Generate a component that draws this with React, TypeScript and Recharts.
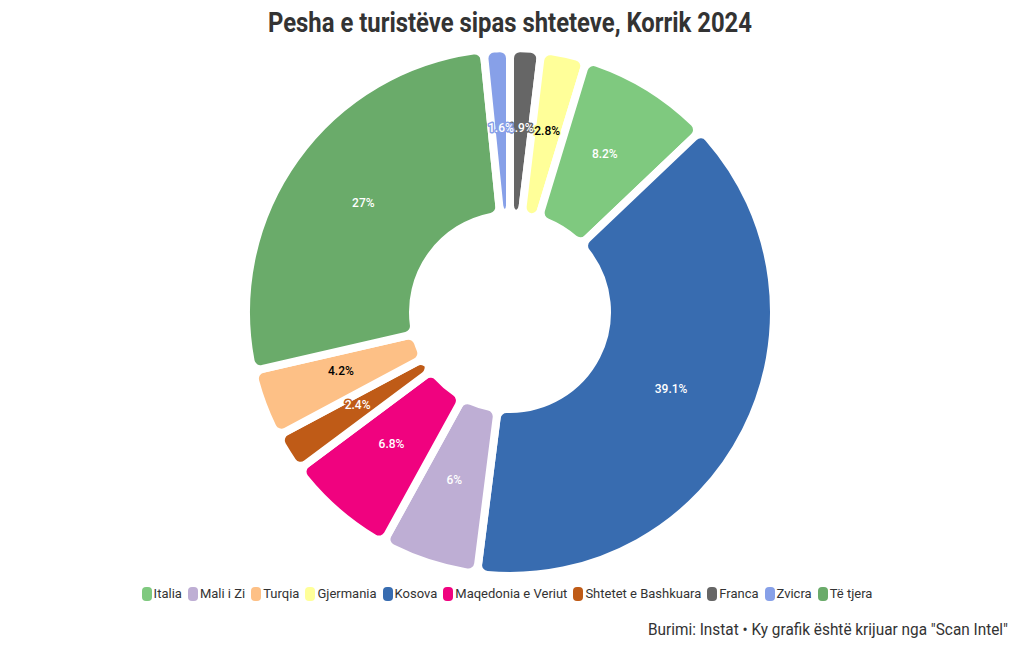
import React from "react";
import { PieChart, Pie, Cell, Legend } from "recharts";

const countries = ["Franca", "Gjermania", "Italia", "Kosova", "Mali i Zi", "Maqedonia e Veriut", "Shtetet e Bashkuara", "Turqia", "Të tjera", "Zvicra"];
const shares = [1.9, 2.8, 8.2, 39.1, 6, 6.8, 2.4, 4.2, 27, 1.6];
const legendOrder = ["Italia", "Mali i Zi", "Turqia", "Gjermania", "Kosova", "Maqedonia e Veriut", "Shtetet e Bashkuara", "Franca", "Zvicra", "Të tjera"];
const palette = ["#7fc97f", "#beaed4", "#fdc086", "#ffff99", "#386cb0", "#f0027f", "#bf5b17", "#666666", "#87a0e8", "#6aab6a"];
const darkLabel = ["Gjermania", "Turqia"];

const title = "Pesha e turistëve sipas shteteve, Korrik 2024";
const caption = 'Burimi: Instat • Ky grafik është krijuar nga "Scan Intel"';

const colorOf = (name: string) => palette[legendOrder.indexOf(name)];
const data = countries.map((c, i) => ({ name: c, value: shares[i] }));

const FONT = "Roboto, 'DejaVu Sans', sans-serif";
const RAD = Math.PI / 180;

const renderLabel = (props: any) => {
  const { cx, cy, midAngle, innerRadius, outerRadius, index } = props;
  const r = (innerRadius + outerRadius) / 2;
  const x = cx + r * Math.cos(-midAngle * RAD);
  const y = cy + r * Math.sin(-midAngle * RAD) - 4;
  const name = countries[index];
  const col = colorOf(name);
  const fill = darkLabel.includes(name) ? "#000" : "#fff";
  return (
    <text
      x={x}
      y={y}
      textAnchor="middle"
      dominantBaseline="central"
      fontFamily={FONT}
      fontWeight={500}
      fontSize={12}
      fill={fill}
      stroke={col}
      strokeWidth={3}
      paintOrder="stroke"
      strokeLinejoin="round"
    >
      {shares[index] + "%"}
    </text>
  );
};

const LegendContent = () => (
  <div style={{ display: "flex", justifyContent: "center", fontFamily: FONT, fontSize: 13, color: "#333" }}>
    {legendOrder.map((n) => (
      <div key={n} style={{ display: "flex", alignItems: "center", marginRight: 6 }}>
        <span style={{ width: 10, height: 14, borderRadius: 4, background: colorOf(n), display: "inline-block", marginRight: 2 }} />
        <span>{n}</span>
      </div>
    ))}
  </div>
);

export default function App() {
  return (
    <div style={{ position: "absolute", left: 0, top: 0, width: 1020, height: 650, background: "#fff" }}>
      <PieChart width={1020} height={650} margin={{ top: 0, right: 0, bottom: 0, left: 0 }}>
        <Pie
          data={data}
          dataKey="value"
          nameKey="name"
          cx={510}
          cy={312}
          innerRadius={97}
          outerRadius={264}
          startAngle={90}
          endAngle={-270}
          cornerRadius={10}
          stroke="#fff"
          strokeWidth={8}
          label={renderLabel}
          labelLine={false}
          isAnimationActive={false}
        >
          {data.map((d) => (
            <Cell key={d.name} fill={colorOf(d.name)} stroke="#fff" strokeWidth={8} />
          ))}
        </Pie>
        <Legend content={LegendContent} wrapperStyle={{ position: "absolute", top: 586, left: 0, width: 1020 }} />
      </PieChart>
      <svg width={1020} height={650} style={{ position: "absolute", left: 0, top: 0, pointerEvents: "none" }}>
        <text x={510} y={32} textAnchor="middle" fontFamily={FONT} fontWeight={700} fontSize={27} fill="#333" textLength={484} lengthAdjust="spacingAndGlyphs">
          {title}
        </text>
        <text x={1008} y={635} textAnchor="end" fontFamily={FONT} fontSize={16.5} fill="#333" textLength={360} lengthAdjust="spacingAndGlyphs">
          {caption}
        </text>
      </svg>
    </div>
  );
}
